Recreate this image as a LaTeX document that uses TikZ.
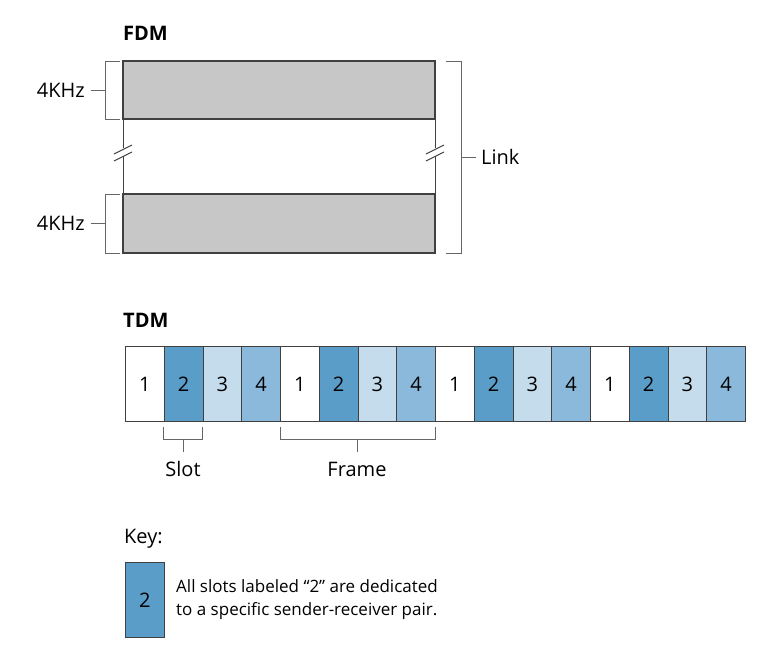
\documentclass[tikz,border=0pt]{standalone}
\usepackage{fontspec}
\setmainfont{Open Sans}
\begin{document}
\begin{tikzpicture}[x=1pt,y=-1pt,
  ln/.style={draw=black!75,line width=1pt},
  br/.style={draw=black!60,line width=1pt},
  band/.style={draw=black!75,line width=1.2pt,fill=black!22},
  lbl/.style={font=\fontsize{20}{24}\selectfont,inner sep=0pt},
  sm/.style={font=\fontsize{17}{21}\selectfont,inner sep=0pt},
  slot/.style={draw=black!75,line width=1pt,minimum width=38.75pt,minimum height=75pt,inner sep=0pt,anchor=north west,font=\fontsize{20}{24}\selectfont},
  s1/.style={slot,fill=white},
  s2/.style={slot,fill={rgb,255:red,90;green,157;blue,200}},
  s3/.style={slot,fill={rgb,255:red,197;green,220;blue,236}},
  s4/.style={slot,fill={rgb,255:red,139;green,185;blue,220}}]
\useasboundingbox (0,0) rectangle (770,648);
% FDM
\node[lbl,font=\bfseries\fontsize{20}{24}\selectfont,anchor=west] (fdm) at (123,33) {FDM};
\path[band] (123,61) rectangle (435,119);
\path[band] (123,194) rectangle (435,253);
\coordinate (lt) at (123,119); \coordinate (lb) at (123,194);
\coordinate (rt) at (435,119); \coordinate (rb) at (435,194);
\draw[ln] (lt) -- (123,148) (123,156) -- (lb);
\draw[ln] (rt) -- (435,148) (435,156) -- (rb);
\draw[ln] (114,154) -- (132,145) (114,161) -- (132,152);
\draw[ln] (426,154) -- (444,145) (426,161) -- (444,152);
\draw[br] (120,61) -- (105,61) -- (105,119) -- (120,119) (105,90) -- (91,90);
\draw[br] (120,194) -- (105,194) -- (105,253) -- (120,253) (105,223) -- (91,223);
\node[lbl,anchor=east] (k1) at (85,90) {4KHz};
\node[lbl,anchor=east] (k2) at (85,223) {4KHz};
\draw[br] (446,61) -- (461,61) -- (461,253) -- (446,253) (461,157) -- (476,157);
\node[lbl,anchor=west] (link) at (481,157) {Link};
% TDM
\node[lbl,font=\bfseries\fontsize{20}{24}\selectfont,anchor=west] (tdm) at (123,320) {TDM};
\foreach \i in {0,1,2,3}{
  \node[s1] (a\i) at (125+155*\i,346) {1};
  \node[s2] (b\i) at (163.75+155*\i,346) {2};
  \node[s3] (c\i) at (202.5+155*\i,346) {3};
  \node[s4] (d\i) at (241.25+155*\i,346) {4};
}
\draw[br] (163.75,427) -- (163.75,439) -- (202.5,439) -- (202.5,427) (183,439) -- (183,452);
\node[lbl,anchor=center] (slot) at (183,469) {Slot};
\draw[br] (280,427) -- (280,439) -- (435,439) -- (435,427) (357,439) -- (357,452);
\node[lbl,anchor=center] (frame) at (357,469) {Frame};
% Key
\node[lbl,anchor=west] (key) at (124,539) {Key:};
\node[s2] (kb) at (125,562) {2};
\node[sm,anchor=west] (t1) at (176,586) {All slots labeled “2” are dedicated};
\node[sm,anchor=west] (t2) at (176,611) {to a specific sender-receiver pair.};
\end{tikzpicture}
\end{document}
